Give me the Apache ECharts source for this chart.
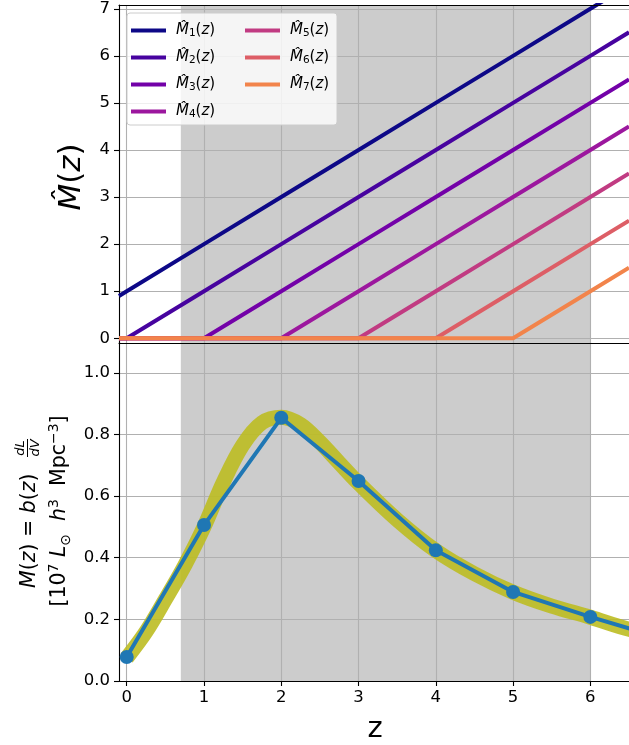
<!DOCTYPE html>
<html>
<head>
<meta charset="utf-8">
<script src="https://cdn.jsdelivr.net/npm/echarts@6/dist/echarts.min.js"></script>
<style>html,body{margin:0;padding:0;background:#fff;}#c{width:629px;height:745px;}</style>
</head>
<body>
<div id="c"></div>
<script>
// ---- data ----
const topZ = [-0.1, 0, 1, 2, 3, 4, 5, 6, 6.5];
const M1 = [0.9, 1, 2, 3, 4, 5, 6, 7, 7.5];
const M2 = [0, 0, 1, 2, 3, 4, 5, 6, 6.5];
const M3 = [0, 0, 0, 1, 2, 3, 4, 5, 5.5];
const M4 = [0, 0, 0, 0, 1, 2, 3, 4, 4.5];
const M5 = [0, 0, 0, 0, 0, 1, 2, 3, 3.5];
const M6 = [0, 0, 0, 0, 0, 0, 1, 2, 2.5];
const M7 = [0, 0, 0, 0, 0, 0, 0, 1, 1.5];
const seriesNames = ['M1', 'M2', 'M3', 'M4', 'M5', 'M6', 'M7'];
const subLabels = ['1', '2', '3', '4', '5', '6', '7'];
const lineColors = ['#0d0887', '#47039f', '#7301a8', '#9c179e', '#c13b82', '#dd5e66', '#f2844b'];

const bandZ = [0, 0.25, 0.5, 0.75, 1, 1.25, 1.5, 1.75, 2, 2.25, 2.5, 2.75, 3, 3.5, 4, 4.5, 5, 5.5, 6, 6.5, 7];
const bandM = [0.075, 0.16, 0.265, 0.375, 0.5, 0.645, 0.765, 0.838, 0.856, 0.832, 0.775, 0.708, 0.642, 0.523, 0.423, 0.348, 0.288, 0.243, 0.207, 0.168, 0.145];

const pointZ = [0, 1, 2, 3, 4, 5, 6, 7];
const pointM = [0.078, 0.506, 0.854, 0.649, 0.424, 0.289, 0.208, 0.133];

const xTicks = [0, 1, 2, 3, 4, 5, 6];
const yTopTicks = [0, 1, 2, 3, 4, 5, 6, 7];
const yBotTicks = [0, 0.2, 0.4, 0.6, 0.8, 1.0];
const shadeRange = [0.7, 6.0];

// ---- chart ----
const topData = [M1, M2, M3, M4, M5, M6, M7];
const pair = (xs, ys) => xs.map((x, i) => [x, ys[i]]);
const FONT = 'DejaVu Sans';
const axisLineStyle = { color: '#000', width: 1.1 };
const gridLineStyle = { color: '#b0b0b0', width: 1.1 };

const chart = echarts.init(document.getElementById('c'), null, { renderer: 'canvas' });

const series = [];
[0, 1].forEach(g => {
  series.push({
    type: 'line', xAxisIndex: g === 0 ? 0 : 2, yAxisIndex: g, z: 0,
    data: [[shadeRange[0], g === 0 ? 0 : 0.5]], showSymbol: false, symbol: 'none',
    lineStyle: { width: 0 }, silent: true, animation: false,
    markArea: { silent: true, z: 0, itemStyle: { color: '#cccccc' }, data: [[{ xAxis: shadeRange[0] }, { xAxis: shadeRange[1] }]] }
  });
});
topData.forEach((d, i) => {
  series.push({
    name: seriesNames[i], type: 'line', xAxisIndex: 0, yAxisIndex: 0, z: 3,
    data: pair(topZ, d), showSymbol: false, symbol: 'none', clip: true,
    lineStyle: { color: lineColors[i], width: 4 }, itemStyle: { color: lineColors[i] }, animation: false
  });
});
series.push({
  type: 'line', xAxisIndex: 2, yAxisIndex: 1, z: 3, data: pair(bandZ, bandM), smooth: 0.35,
  showSymbol: false, symbol: 'none', clip: true,
  lineStyle: { color: '#bcbd22', width: 15, opacity: 0.9, cap: 'butt' }, animation: false
});
series.push({
  type: 'line', xAxisIndex: 2, yAxisIndex: 1, z: 4, data: pair(pointZ, pointM),
  symbol: 'circle', symbolSize: 14, showSymbol: true, clip: true,
  lineStyle: { color: '#1f77b4', width: 4 }, itemStyle: { color: '#1f77b4' }, animation: false
});

const labelStyle = { color: '#000', fontSize: 16.5, fontFamily: FONT };
const LBL = 20.5;

const option = {
  animation: false,
  backgroundColor: '#fff',
  grid: [
    { left: 119, top: 5, width: 511, height: 338 },
    { left: 119, top: 342, width: 511, height: 339 }
  ],
  xAxis: [
    { gridIndex: 0, type: 'value', min: -0.1, max: 6.5, position: 'bottom', z: 2,
      axisLine: { onZero: false, lineStyle: axisLineStyle },
      axisTick: { show: false, customValues: xTicks }, axisLabel: { show: false, customValues: xTicks },
      splitLine: { show: true, lineStyle: gridLineStyle } },
    { gridIndex: 0, type: 'value', min: -0.1, max: 6.5, position: 'top', z: 5,
      axisLine: { onZero: false, lineStyle: axisLineStyle },
      axisTick: { show: false }, axisLabel: { show: false }, splitLine: { show: false } },
    { gridIndex: 1, type: 'value', min: -0.1, max: 6.5, position: 'bottom', z: 2,
      axisLine: { onZero: false, lineStyle: axisLineStyle },
      axisTick: { show: true, length: 5, lineStyle: axisLineStyle, customValues: xTicks },
      axisLabel: Object.assign({ customValues: xTicks, margin: 8 }, labelStyle),
      splitLine: { show: true, lineStyle: gridLineStyle } }
  ],
  yAxis: [
    { gridIndex: 0, type: 'value', min: -0.1, max: 7.08, z: 2,
      axisLine: { show: true, onZero: false, lineStyle: axisLineStyle },
      axisTick: { show: true, length: 5, lineStyle: axisLineStyle, customValues: yTopTicks },
      axisLabel: Object.assign({ customValues: yTopTicks, margin: 9 }, labelStyle),
      splitLine: { show: true, lineStyle: gridLineStyle } },
    { gridIndex: 1, type: 'value', min: 0, max: 1.1, z: 2,
      axisLine: { show: true, onZero: false, lineStyle: axisLineStyle },
      axisTick: { show: true, length: 5, lineStyle: axisLineStyle, customValues: yBotTicks },
      axisLabel: Object.assign({ customValues: yBotTicks, margin: 9, formatter: v => v.toFixed(1) }, labelStyle),
      splitLine: { show: true, lineStyle: gridLineStyle } }
  ],
  legend: {
    data: seriesNames, orient: 'vertical', left: 127, top: 14, height: 112,
    padding: [8, 5, 7, 4], itemWidth: 35, itemHeight: 4, itemGap: 10, icon: 'rect', z: 11,
    formatter: name => '{i|M̂}{s|' + subLabels[seriesNames.indexOf(name)] + '}{n|(}{i|z}{n|)}',
    textStyle: { fontSize: 15, fontFamily: FONT, color: '#000', width: 59, lineHeight: 17, padding: [0, 0, 0, 5],
      rich: { i: { fontStyle: 'italic', fontSize: 15, fontFamily: FONT, color: '#000', lineHeight: 17 },
              n: { fontSize: 15, fontFamily: FONT, color: '#000', lineHeight: 17 },
              s: { fontSize: 10.5, fontFamily: FONT, color: '#000', lineHeight: 11, verticalAlign: 'bottom' } } }
  },
  graphic: [
    { type: 'rect', z: 10, silent: true, shape: { x: 127, y: 13, width: 210, height: 112, r: 3 },
      style: { fill: 'rgba(255,255,255,0.8)', stroke: '#cccccc', lineWidth: 1 } },
    { type: 'text', x: 72, y: 177, rotation: Math.PI / 2, z: 5, silent: true,
      style: { text: '{i|M̂}({i|z})', fontSize: 31, fontFamily: FONT, fill: '#000', align: 'center', verticalAlign: 'middle',
        rich: { i: { fontStyle: 'italic', fontSize: 31, fontFamily: FONT, fill: '#000' } } } },
    { type: 'text', x: 375, y: 729, z: 5, silent: true,
      style: { text: 'z', fontSize: 29, fontFamily: FONT, fill: '#000', align: 'center', verticalAlign: 'middle' } },
    { type: 'group', x: 43, y: 497, rotation: Math.PI / 2, z: 5, silent: true,
      children: [
        { type: 'text', x: -91, y: -13,
          style: { text: '{i|M}({i|z}) = {i|b}({i|z})', fontSize: LBL, fontFamily: FONT, fill: '#000', align: 'left', verticalAlign: 'middle',
            rich: { i: { fontStyle: 'italic', fontSize: LBL, fontFamily: FONT, fill: '#000' } } } },
        { type: 'text', x: 49, y: -22,
          style: { text: 'dL', fontStyle: 'italic', fontSize: 13, fontFamily: FONT, fill: '#000', align: 'center', verticalAlign: 'middle' } },
        { type: 'line', shape: { x1: 40, y1: -15.5, x2: 58, y2: -15.5 }, style: { stroke: '#000', lineWidth: 1 } },
        { type: 'text', x: 49, y: -7,
          style: { text: 'dV', fontStyle: 'italic', fontSize: 13, fontFamily: FONT, fill: '#000', align: 'center', verticalAlign: 'middle' } },
        { type: 'text', x: -14, y: 17,
          style: { text: '{n|[10}{p|7}{n| }{i|L}{s|⊙}{n|  }{i|h}{p|3}{n|  Mpc}{p|−3}{n|]}', fontSize: LBL, fontFamily: FONT, fill: '#000', align: 'center', verticalAlign: 'middle',
            rich: { n: { fontSize: LBL, fontFamily: FONT, fill: '#000', lineHeight: 26, verticalAlign: 'middle' },
                    i: { fontStyle: 'italic', fontSize: LBL, fontFamily: FONT, fill: '#000', lineHeight: 26, verticalAlign: 'middle' },
                    p: { fontSize: 14, fontFamily: FONT, fill: '#000', lineHeight: 14, verticalAlign: 'top' },
                    s: { fontSize: 14, fontFamily: FONT, fill: '#000', lineHeight: 14, verticalAlign: 'bottom' } } } }
      ] }
  ],
  series: series
};
chart.setOption(option);
</script>
</body>
</html>
